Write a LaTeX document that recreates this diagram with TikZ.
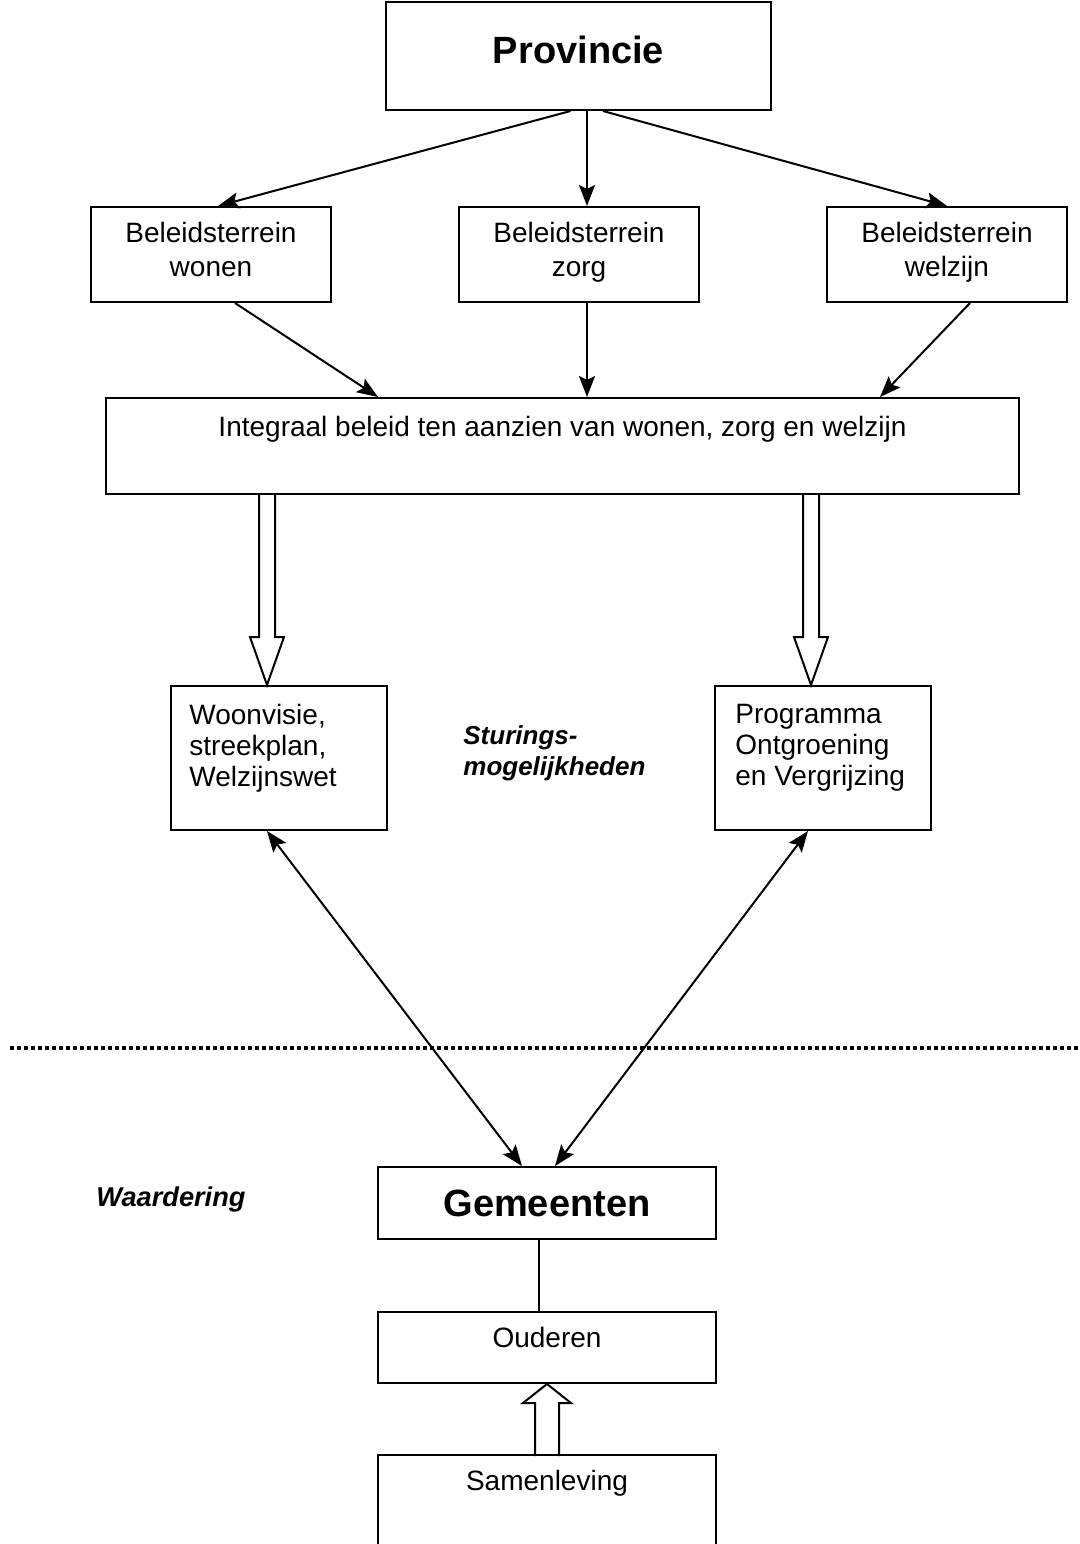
\documentclass[tikz,border=0pt]{standalone}
\usepackage{fontspec}
\setmainfont{Liberation Sans}
\usepackage{tikz}
\usetikzlibrary{positioning,calc,arrows.meta}

\tikzset{
  vak/.style={draw, line width=1pt, rectangle, inner sep=0pt},
  tekst/.style={inner sep=0pt, align=center, font=\fontsize{14pt}{17pt}\selectfont},
  links/.style={inner sep=0pt, align=left, font=\fontsize{14pt}{15.5pt}\selectfont},
  groot/.style={inner sep=0pt, font=\fontsize{19pt}{22pt}\selectfont\bfseries},
  schuin/.style={inner sep=0pt, align=left, font=\fontsize{13pt}{15.5pt}\selectfont\bfseries\itshape},
  pijl/.style={line width=1pt, -{Stealth[length=10.5pt,width=8pt,inset=2pt]}},
  tweepijl/.style={line width=1pt, {Stealth[length=10.5pt,width=8pt,inset=2pt]}-{Stealth[length=10.5pt,width=8pt,inset=2pt]}},
  blok/.style={line width=1pt, line join=miter},
  stippel/.style={line width=1.6pt, dash pattern=on 2pt off 1.5pt}
}

\begin{document}
\begin{tikzpicture}[x=0.5pt,y=-0.5pt]

    \useasboundingbox (0,0) rectangle (1080,1544);

    % bovenste laag
    \node[vak, minimum width=192.5pt, minimum height=54pt] (prov) at (578.5,56) {};
    \node[groot, below=17.5pt of prov.north] (prov-t) {Provincie};

    \node[vak, minimum width=120pt, minimum height=47.5pt] (wonen) at (211,254.5) {};
    \node[tekst, below=8pt of wonen.north] (wonen-t) {Beleidsterrein\\wonen};

    \node[vak, minimum width=120pt, minimum height=47.5pt] (zorg) at (579,254.5) {};
    \node[tekst, below=8pt of zorg.north] (zorg-t) {Beleidsterrein\\zorg};

    \node[vak, minimum width=120pt, minimum height=47.5pt] (welzijn) at (947,254.5) {};
    \node[tekst, below=8pt of welzijn.north] (welzijn-t) {Beleidsterrein\\welzijn};

    \node[vak, minimum width=456.5pt, minimum height=48pt] (integraal) at (562.5,446) {};
    \node[tekst, below=9.5pt of integraal.north] (integraal-t) {Integraal beleid ten aanzien van wonen, zorg en welzijn};

    % sturing
    \node[vak, minimum width=108pt, minimum height=72pt] (wvisie) at (279,758) {};
    \node[links, anchor=north west] (wvisie-t) at ($(wvisie.north west)+(19,19)$) {Woonvisie,\\streekplan,\\Welzijnswet};

    \node[vak, minimum width=108pt, minimum height=72pt] (progr) at (823,758) {};
    \node[links, anchor=north west] (progr-t) at ($(progr.north west)+(21,19)$) {Programma\\Ontgroening\\en Vergrijzing};

    \node[schuin, anchor=north west] (sturing) at (463,725) {Sturings-\\mogelijkheden};

    % onderste laag
    \node[vak, minimum width=169pt, minimum height=36pt] (gem) at (547,1203) {};
    \node[groot] (gem-t) at (gem.center) {Gemeenten};

    \node[schuin, font=\fontsize{13.6pt}{16pt}\selectfont\bfseries\itshape, anchor=north west] (waard) at (96,1186) {Waardering};

    \node[vak, minimum width=169pt, minimum height=35.5pt] (oud) at (547,1347.5) {};
    \node[tekst, below=8pt of oud.north] (oud-t) {Ouderen};

    \node[vak, minimum width=169pt, minimum height=55pt] (samen) at (547,1510) {};
    \node[tekst, below=8pt of samen.north] (samen-t) {Samenleving};

    % pijlen
    \draw[pijl] ($(prov.south)+(-8,0)$) -- ($(wonen.north)+(7,0)$);
    \draw[pijl] ($(prov.south)+(8.5,0)$) -- ($(zorg.north)+(8,0)$);
    \draw[pijl] ($(prov.south)+(24.5,0)$) -- (welzijn.north);

    \draw[pijl] ($(wonen.south)+(24,0)$) -- ($(integraal.north)+(-184.5,0)$);
    \draw[pijl] ($(zorg.south)+(8,0)$) -- ($(integraal.north)+(24.5,0)$);
    \draw[pijl] ($(welzijn.south)+(23,0)$) -- ($(integraal.north)+(317.5,0)$);

    \coordinate (puntL) at ($(wvisie.north)+(-12,0)$);
    \coordinate (puntR) at ($(progr.north)+(-12,0)$);
    \coordinate (puntO) at (oud.south);

    \draw[blok] (puntL) ++(-8,-192) -- ++(0,144) -- ++(-9,0) -- (puntL) -- ++(17,-48) -- ++(-9,0) -- ++(0,-144);
    \draw[blok] (puntR) ++(-8,-192) -- ++(0,144) -- ++(-9,0) -- (puntR) -- ++(17,-48) -- ++(-9,0) -- ++(0,-144);

    \draw[tweepijl] ($(wvisie.south)+(-12,0)$) -- ($(gem.north)+(-25,0)$);
    \draw[tweepijl] ($(progr.south)+(-15,0)$) -- ($(gem.north)+(8,0)$);

    \draw[line width=1pt] ($(gem.south)+(-8,0)$) -- ($(oud.north)+(-8,0)$);

    \draw[blok] (puntO) ++(-12,72) -- ++(0,-53) -- ++(-12,0) -- (puntO) -- ++(24,19) -- ++(-12,0) -- ++(0,53);

    % scheiding
    \draw[stippel] (10,1048) -- (1080,1048);

  \end{tikzpicture}
\end{document}
